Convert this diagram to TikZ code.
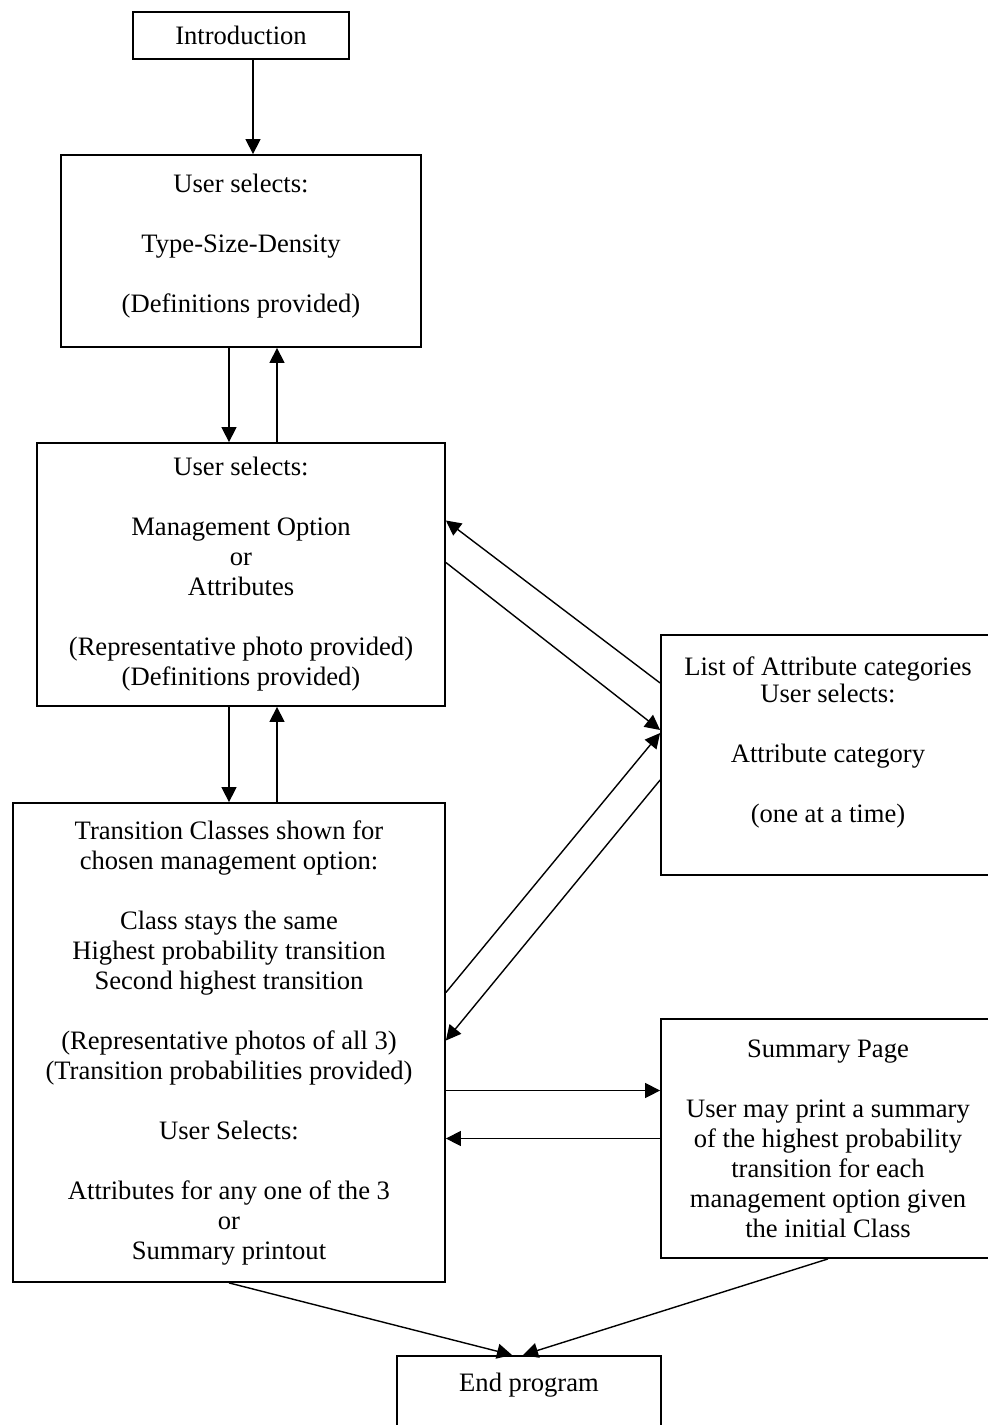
\documentclass[tikz,border=0pt]{standalone}
\usepackage{fontspec}
\setmainfont{Liberation Serif}
\usetikzlibrary{arrows.meta}
\tikzset{
  box/.style={draw, line width=0.9pt, align=center, inner sep=0pt, font=\fontsize{13.3}{15}\selectfont},
  arr/.style={line width=0.7pt, -{Triangle[length=7.5pt,width=7.5pt]}},
}
\begin{document}
\begin{tikzpicture}[x=0.5pt,y=-0.5pt]
\useasboundingbox (0,0) rectangle (988,1425);

%Shape: Rectangle [intro]
\node[box, minimum width=108pt, minimum height=23.5pt] (intro) at (241,35.5) {Introduction};
%Shape: Rectangle [select]
\node[box, minimum width=180pt, minimum height=96pt] (select) at (241,251) {User selects:\\[15pt]Type-Size-Density\\[15pt](Definitions provided)\\[-7pt]\mbox{}};
%Shape: Rectangle [option]
\node[box, minimum width=204pt, minimum height=131.5pt] (option) at (241,574.5) {User selects:\\[15pt]Management Option\\or\\Attributes\\[15pt](Representative photo provided)\\(Definitions provided)};
%Shape: Rectangle [trans]
\node[box, minimum width=216pt, minimum height=239.5pt] (trans) at (229,1042.5) {Transition Classes shown for\\chosen management option:\\[15pt]Class stays the same\\Highest probability transition\\Second highest transition\\[15pt](Representative photos of all 3)\\(Transition probabilities provided)\\[15pt]User Selects:\\[15pt]Attributes for any one of the 3\\or\\Summary printout};
%Shape: Rectangle [attr]
\node[box, minimum width=167pt, minimum height=120pt] (attr) at (828,755) {List of Attribute categories\\[-1.5pt]User selects:\\[15pt]Attribute category\\[15pt](one at a time)\\\mbox{}};
%Shape: Rectangle [summ]
\node[box, minimum width=167pt, minimum height=119.5pt] (summ) at (828,1138.5) {Summary Page\\[15pt]User may print a summary\\of the highest probability\\transition for each\\management option given\\the initial Class};
%Shape: Rectangle [endp] (runs off the page)
\node[box, anchor=north, minimum width=132pt, inner ysep=4pt, text height=14pt, text depth=60pt] (endp) at (529,1355) {End program};

%Straight Lines
\draw[arr] ([xshift=6pt]intro.south) -- ([xshift=6pt]intro.south |- select.north);
\draw[arr] ([xshift=-6pt]select.south) -- ([xshift=-6pt]select.south |- option.north);
\draw[arr] ([xshift=18pt]option.north) -- ([xshift=18pt]option.north |- select.south);
\draw[arr] ([xshift=-6pt]option.south) -- ([xshift=-6pt]option.south |- trans.north);
\draw[arr] ([xshift=18pt]option.south |- trans.north) -- ([xshift=18pt]option.south);
%Straight Lines
\draw[arr] ([yshift=36pt]attr.west) -- ([yshift=27pt]option.east);
\draw[arr] ([yshift=6pt]option.east) -- ([yshift=12.5pt]attr.west);
\draw[arr] ([yshift=25pt]trans.east) -- ([yshift=11pt]attr.west);
\draw[arr] ([yshift=-12.5pt]attr.west) -- ([yshift=1pt]trans.east);
%Straight Lines
\draw[arr] ([yshift=-24pt]trans.east) -- ([yshift=-24pt]trans.east -| summ.west);
\draw[arr] (summ.west) -- (summ.west -| trans.east);
\draw[arr] (trans.south) -- ([xshift=-8.5pt]endp.north);
\draw[arr] (summ.south) -- ([xshift=-3pt]endp.north);
\end{tikzpicture}
\end{document}
